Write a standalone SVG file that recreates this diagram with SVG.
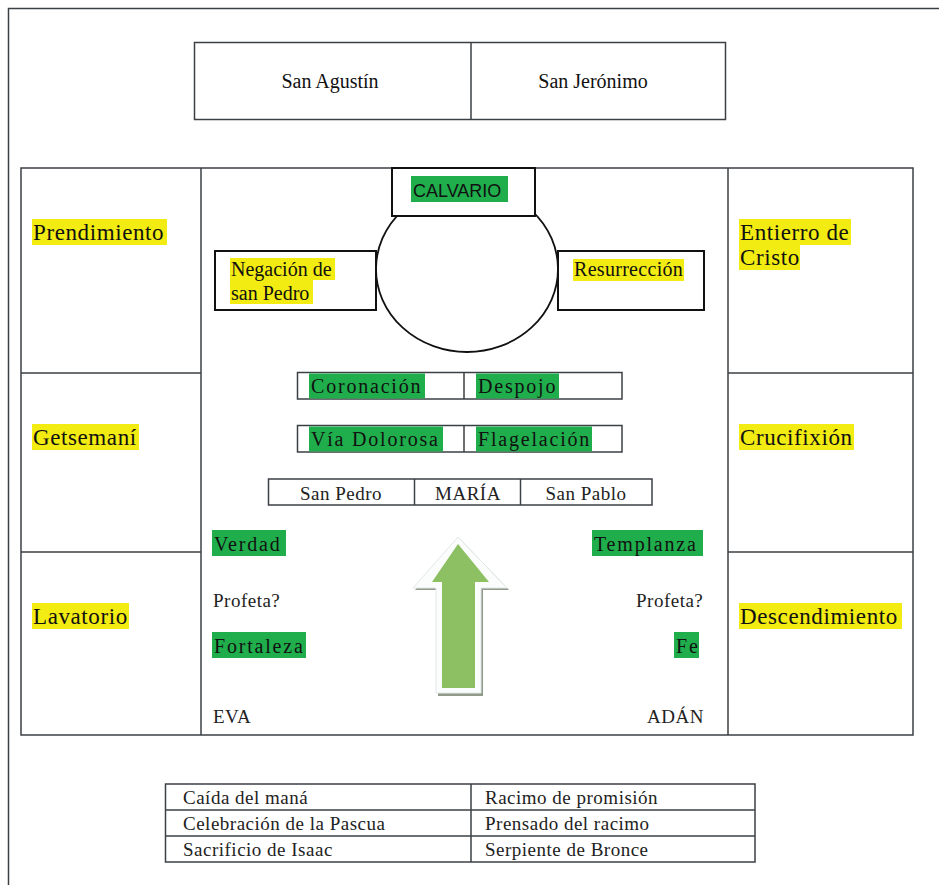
<svg xmlns="http://www.w3.org/2000/svg" width="939" height="885" viewBox="0 0 939 885">
<style>
  .ln{fill:none;stroke:#3b4045;stroke-width:1.5}
  .bx{fill:#fff;stroke:#111;stroke-width:2}
  .t{font-family:"Liberation Serif",serif;fill:#111}
  .big{font-size:23px;letter-spacing:0.6px}
  .mid{font-size:20px;letter-spacing:1.8px}
  .sm{font-size:19px;letter-spacing:0.5px;fill:#222}
  .yl{fill:#f2ec12}
  .gr{fill:#1fae4b}
</style>
<rect width="939" height="885" fill="#fff"/>
<path class="ln" d="M939 8.5H8.5V885"/>

<g id="top-box">
  <rect class="ln" x="194.5" y="42.5" width="531" height="77"/>
  <line class="ln" x1="471" y1="42.5" x2="471" y2="119.5"/>
  <text class="t" x="330" y="88" font-size="20" text-anchor="middle">San Agustín</text>
  <text class="t" x="593" y="88" font-size="20" text-anchor="middle">San Jerónimo</text>
</g>

<g id="main-grid">
  <rect class="ln" x="21" y="168" width="892" height="567"/>
  <line class="ln" x1="201" y1="168" x2="201" y2="735"/>
  <line class="ln" x1="728" y1="168" x2="728" y2="735"/>
  <line class="ln" x1="21" y1="373" x2="201" y2="373"/>
  <line class="ln" x1="21" y1="552" x2="201" y2="552"/>
  <line class="ln" x1="728" y1="373" x2="913" y2="373"/>
  <line class="ln" x1="728" y1="552" x2="913" y2="552"/>
</g>

<g id="prendimiento">
  <rect class="yl" x="32" y="219" width="135" height="26"/>
  <text class="t big" x="33" y="240">Prendimiento</text>
</g>
<g id="getsemani">
  <rect class="yl" x="32" y="424" width="107" height="26"/>
  <text class="t big" x="33" y="445">Getsemaní</text>
</g>
<g id="lavatorio">
  <rect class="yl" x="32" y="603" width="97" height="26"/>
  <text class="t big" x="33" y="624">Lavatorio</text>
</g>
<g id="entierro">
  <rect class="yl" x="739" y="219" width="112" height="26"/>
  <rect class="yl" x="739" y="245" width="61" height="25"/>
  <text class="t big" x="740" y="240">Entierro de</text>
  <text class="t big" x="740" y="265">Cristo</text>
</g>
<g id="crucifixion">
  <rect class="yl" x="739" y="424" width="115" height="26"/>
  <text class="t big" x="740" y="445">Crucifixión</text>
</g>
<g id="descendimiento">
  <rect class="yl" x="739" y="603" width="163" height="26"/>
  <text class="t big" x="740" y="624">Descendimiento</text>
</g>

<g id="calvario-circle">
  <ellipse cx="467" cy="269" rx="91" ry="83" fill="none" stroke="#111" stroke-width="1.8"/>
</g>
<g id="calvario">
  <rect class="bx" x="392" y="168" width="143" height="48"/>
  <rect class="gr" x="411" y="176" width="97" height="26"/>
  <text x="413" y="197" font-family="'Liberation Sans',sans-serif" font-size="18" fill="#111">CALVARIO</text>
</g>
<g id="negacion">
  <rect class="bx" x="215" y="251" width="161" height="59"/>
  <rect class="yl" x="230" y="258" width="105" height="22"/>
  <rect class="yl" x="230" y="280" width="83" height="24"/>
  <text class="t" x="231" y="276" font-size="20">Negación de</text>
  <text class="t" x="231" y="300" font-size="20">san Pedro</text>
</g>
<g id="resurreccion">
  <rect class="bx" x="558" y="251" width="146" height="59"/>
  <rect class="yl" x="573" y="259" width="111" height="22"/>
  <text class="t" x="574" y="276" font-size="20" letter-spacing="0.3">Resurrección</text>
</g>

<g id="row-coronacion">
  <rect class="ln" x="297.5" y="372.5" width="324.5" height="26.5"/>
  <line class="ln" x1="464" y1="372.5" x2="464" y2="399"/>
  <rect class="gr" x="309" y="373.5" width="116" height="25"/>
  <rect class="gr" x="476" y="373.5" width="83" height="25"/>
  <text class="t mid" x="311" y="393">Coronación</text>
  <text class="t mid" x="478" y="393">Despojo</text>
</g>
<g id="row-via">
  <rect class="ln" x="297.5" y="425.5" width="324.5" height="26.5"/>
  <line class="ln" x1="464" y1="425.5" x2="464" y2="452"/>
  <rect class="gr" x="309" y="426.5" width="134" height="25"/>
  <rect class="gr" x="476" y="426.5" width="116" height="25"/>
  <text class="t mid" x="311" y="446">Vía Dolorosa</text>
  <text class="t mid" x="478" y="446">Flagelación</text>
</g>
<g id="row-maria">
  <rect class="ln" x="268.5" y="479" width="383.5" height="26"/>
  <line class="ln" x1="414.5" y1="479" x2="414.5" y2="505"/>
  <line class="ln" x1="520.5" y1="479" x2="520.5" y2="505"/>
  <text class="t sm" x="341" y="500" text-anchor="middle">San Pedro</text>
  <text class="t sm" x="468" y="500" text-anchor="middle">MARÍA</text>
  <text class="t sm" x="586" y="500" text-anchor="middle">San Pablo</text>
</g>

<g id="verdad">
  <rect class="gr" x="212" y="530" width="74" height="26"/>
  <text class="t mid" x="214" y="551">Verdad</text>
</g>
<g id="templanza">
  <rect class="gr" x="592" y="530" width="111" height="26"/>
  <text class="t mid" x="594" y="551">Templanza</text>
</g>
<g id="profeta-left">
  <text class="t sm" x="213" y="607">Profeta?</text>
</g>
<g id="profeta-right">
  <text class="t sm" x="636" y="607">Profeta?</text>
</g>
<g id="fortaleza">
  <rect class="gr" x="212" y="632" width="94" height="26"/>
  <text class="t mid" x="214" y="653">Fortaleza</text>
</g>
<g id="fe">
  <rect class="gr" x="674" y="632" width="25" height="26"/>
  <text class="t mid" x="676" y="653">Fe</text>
</g>
<g id="eva">
  <text class="t sm" x="213" y="723">EVA</text>
</g>
<g id="adan">
  <text class="t sm" x="647" y="723">ADÁN</text>
</g>

<g id="arrow">
  <polygon points="460,539 509,590 483,590 483,696 438,696 438,590 415,590" fill="#8f9a8a"/>
  <polygon points="458,537 507,588 481,588 481,693 436,693 436,588 413,588" fill="#fbfcfc" stroke="#e3e8e8" stroke-width="1"/>
  <polygon points="458,544 489,582 475,582 475,688 442,688 442,582 432,582" fill="#8cc063"/>
</g>

<g id="connectors"></g>

<g id="bottom-table">
  <rect class="ln" x="165.5" y="784" width="589.5" height="78"/>
  <line class="ln" x1="471" y1="784" x2="471" y2="862"/>
  <line class="ln" x1="165.5" y1="810" x2="755" y2="810"/>
  <line class="ln" x1="165.5" y1="836" x2="755" y2="836"/>
  <text class="t sm" x="183" y="804">Caída del maná</text>
  <text class="t sm" x="183" y="830">Celebración de la Pascua</text>
  <text class="t sm" x="183" y="856">Sacrificio de Isaac</text>
  <text class="t sm" x="485" y="804">Racimo de promisión</text>
  <text class="t sm" x="485" y="830">Prensado del racimo</text>
  <text class="t sm" x="485" y="856">Serpiente de Bronce</text>
</g>
</svg>
